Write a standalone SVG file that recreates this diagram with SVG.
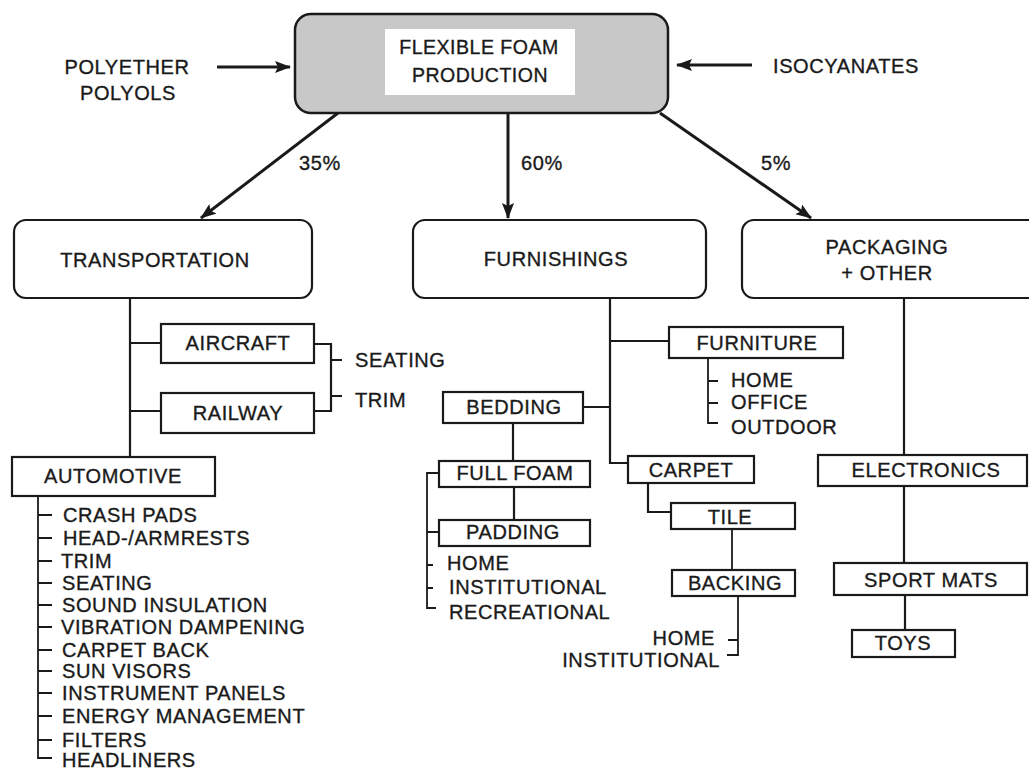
<svg xmlns="http://www.w3.org/2000/svg" width="1029" height="769" viewBox="0 0 1029 769">
<defs>
<style>
text{font-family:"Liberation Sans",Arial,sans-serif;font-size:20px;letter-spacing:0.6px;fill:#1a1a1a;stroke:#1a1a1a;stroke-width:0.35px}
.c{text-anchor:middle}
.e{text-anchor:end}
.t{font-size:19.5px;letter-spacing:0.5px}
.box{fill:#fff;stroke:#1a1a1a;stroke-width:2.2}
.ln{fill:none;stroke:#1a1a1a;stroke-width:2.2}
.thin{fill:none;stroke:#1a1a1a;stroke-width:1.8}
.arr{fill:none;stroke:#1a1a1a;stroke-width:3;marker-end:url(#ah)}
</style>
<marker id="ah" viewBox="0 0 16 12" refX="15" refY="6" markerWidth="16" markerHeight="12" markerUnits="userSpaceOnUse" orient="auto">
<path d="M0,0 L16,6 L0,12 L3,6 z" fill="#1a1a1a"/>
</marker>
</defs>
<rect width="1029" height="769" fill="#fff"/>

<g id="connectors">
<line class="arr" x1="217" y1="67" x2="290" y2="67"/>
<line class="arr" x1="752" y1="65" x2="677" y2="65"/>
<line class="arr" x1="338" y1="113" x2="201" y2="218"/>
<line class="arr" x1="508" y1="113" x2="508" y2="218"/>
<line class="arr" x1="660" y1="113" x2="811" y2="218"/>
<!-- transportation -->
<path class="ln" d="M130,298 V457 M130,343 H161 M130,411 H161"/>
<path class="ln" d="M314,344 H331 V411 H314 M331,360 H342 M331,396 H342"/>
<path class="thin" d="M38,496 V758 H52 M38,515 H52 M38,538 H52 M38,561 H52 M38,583 H52 M38,605 H52 M38,627 H52 M38,650 H52 M38,671 H52 M38,693 H52 M38,716 H52 M38,740 H52"/>
<!-- furnishings -->
<path class="ln" d="M610,298 V463 H628 M610,341 H669 M583,407 H610"/>
<path class="thin" d="M708,358 V423 H718 M708,381 H718 M708,403 H718"/>
<path class="ln" d="M513,423 V461 M514,487 V520"/>
<path class="thin" d="M439,473 H427 V608 H436 M427,532 H439 M427,565 H433 M427,588 H433"/>
<path class="ln" d="M648,483 V512 H671"/>
<path class="thin" d="M732,529 V570"/>
<path class="thin" d="M738,596 V655 H727 M728,640 H738"/>
<!-- packaging -->
<path class="ln" d="M904,298 V455 M904,486 V563 M905,595 V630"/>
</g>

<g id="source">
<rect x="295" y="14" width="373" height="99" rx="16" fill="#c8c8c8" stroke="#1a1a1a" stroke-width="2.5"/>
<rect x="385" y="29" width="190" height="66" fill="#fff"/>
<text class="c t" x="479" y="54">FLEXIBLE FOAM</text>
<text class="c t" x="480" y="82">PRODUCTION</text>
</g>
<g id="polyether">
<text class="c" x="127" y="74">POLYETHER</text>
<text class="c" x="128" y="100">POLYOLS</text>
</g>
<g id="isocyanates"><text x="773" y="73">ISOCYANATES</text></g>
<g id="pct">
<text class="c" x="320" y="170">35%</text>
<text class="c" x="542" y="170">60%</text>
<text class="c" x="776" y="170">5%</text>
</g>

<g id="transportation">
<rect class="box" x="14" y="220" width="298" height="78" rx="12"/>
<text class="c" x="155" y="267">TRANSPORTATION</text>
</g>
<g id="furnishings">
<rect class="box" x="413" y="220" width="293" height="78" rx="12"/>
<text class="c" x="556" y="266">FURNISHINGS</text>
</g>
<g id="packaging">
<rect class="box" x="742" y="220" width="300" height="78" rx="12"/>
<text class="c" x="887" y="254">PACKAGING</text>
<text class="c" x="887" y="280">+ OTHER</text>
</g>

<g id="aircraft">
<rect class="box" x="161" y="324" width="153" height="39"/>
<text class="c" x="238" y="350">AIRCRAFT</text>
</g>
<g id="railway">
<rect class="box" x="161" y="393" width="153" height="40"/>
<text class="c" x="238" y="420">RAILWAY</text>
</g>
<g id="air-rail-uses">
<text x="355" y="367">SEATING</text>
<text x="355" y="407">TRIM</text>
</g>
<g id="automotive">
<rect class="box" x="12" y="457" width="203" height="39"/>
<text class="c" x="113" y="483">AUTOMOTIVE</text>
</g>
<g id="automotive-uses">
<text x="63" y="522">CRASH PADS</text>
<text x="63" y="545">HEAD-/ARMRESTS</text>
<text x="61" y="568">TRIM</text>
<text x="62" y="590">SEATING</text>
<text x="62" y="612">SOUND INSULATION</text>
<text x="61" y="634">VIBRATION DAMPENING</text>
<text x="62" y="657">CARPET BACK</text>
<text x="62" y="678">SUN VISORS</text>
<text x="62" y="700">INSTRUMENT PANELS</text>
<text x="62" y="723">ENERGY MANAGEMENT</text>
<text x="62" y="747">FILTERS</text>
<text x="62" y="767">HEADLINERS</text>
</g>

<g id="furniture">
<rect class="box" x="669" y="327" width="174" height="31"/>
<text class="c" x="757" y="350">FURNITURE</text>
</g>
<g id="furniture-uses">
<text x="731" y="387">HOME</text>
<text x="731" y="409">OFFICE</text>
<text x="731" y="434">OUTDOOR</text>
</g>
<g id="bedding">
<rect class="box" x="443" y="392" width="140" height="31"/>
<text class="c" x="514" y="414">BEDDING</text>
</g>
<g id="fullfoam">
<rect class="box" x="439" y="461" width="151" height="26"/>
<text class="c" x="515" y="480">FULL FOAM</text>
</g>
<g id="padding">
<rect class="box" x="439" y="520" width="151" height="26"/>
<text class="c" x="513" y="539">PADDING</text>
</g>
<g id="bedding-uses">
<text x="447" y="570">HOME</text>
<text x="449" y="594">INSTITUTIONAL</text>
<text x="449" y="619">RECREATIONAL</text>
</g>
<g id="carpet">
<rect class="box" x="628" y="456" width="126" height="27"/>
<text class="c" x="691" y="477">CARPET</text>
</g>
<g id="tile">
<rect class="box" x="671" y="503" width="124" height="26"/>
<text class="c" x="730" y="524">TILE</text>
</g>
<g id="backing">
<rect class="box" x="672" y="570" width="123" height="26"/>
<text class="c" x="735" y="590">BACKING</text>
</g>
<g id="backing-uses">
<text class="e" x="715" y="645">HOME</text>
<text class="e" x="720" y="667">INSTITUTIONAL</text>
</g>

<g id="electronics">
<rect class="box" x="818" y="455" width="209" height="31"/>
<text class="c" x="926" y="477">ELECTRONICS</text>
</g>
<g id="sportmats">
<rect class="box" x="834" y="563" width="193" height="32"/>
<text class="c" x="931" y="587">SPORT MATS</text>
</g>
<g id="toys">
<rect class="box" x="852" y="630" width="103" height="27"/>
<text class="c" x="903" y="650">TOYS</text>
</g>
</svg>
